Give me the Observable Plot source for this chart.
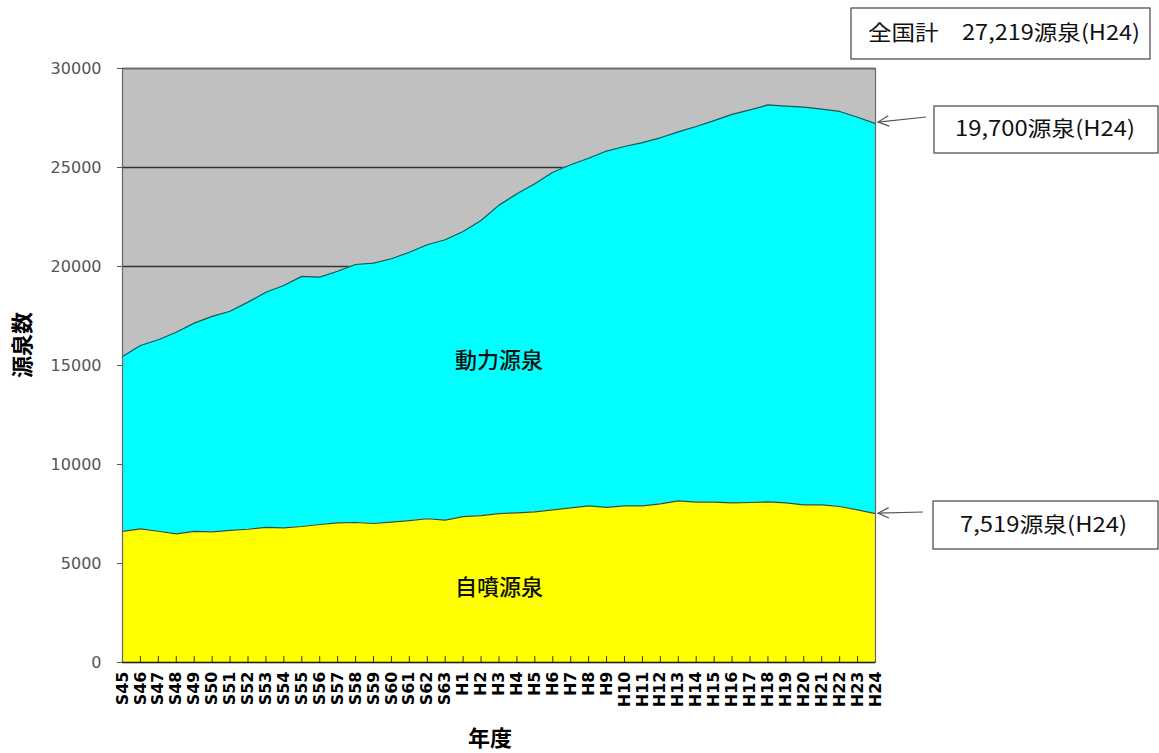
<!DOCTYPE html>
<html><head><meta charset="utf-8">
<script src="https://cdn.jsdelivr.net/npm/d3@7"></script>
<script src="https://cdn.jsdelivr.net/npm/@observablehq/plot@0.6"></script>
<style>body{margin:0;background:#fff;}</style>
</head><body><div id="chart"></div>
<script>
const years = ["S45","S46","S47","S48","S49","S50","S51","S52","S53","S54","S55","S56","S57","S58","S59","S60","S61","S62","S63",
  "H1","H2","H3","H4","H5","H6","H7","H8","H9","H10","H11","H12","H13","H14","H15","H16","H17","H18","H19","H20","H21","H22","H23","H24"];
// 自噴源泉
const natural = [6620,6750,6630,6500,6620,6600,6670,6730,6820,6800,6870,6970,7050,7070,7020,7090,7170,7260,7190,
  7370,7420,7520,7560,7610,7710,7810,7910,7830,7910,7910,8010,8160,8100,8100,8060,8080,8110,8060,7960,7960,7880,7710,7519];
// 動力源泉
const motor = [8830,9260,9670,10180,10520,10880,11070,11470,11880,12240,12630,12490,12710,13030,13150,13300,13550,13840,14160,
  14400,14900,15580,16110,16570,17050,17330,17560,18000,18150,18350,18490,18640,18970,19270,19620,19830,20050,20040,20090,19990,19950,19830,19700];
const seriesNames = ["自噴源泉","動力源泉"];
const yTicks = [0,5000,10000,15000,20000,25000,30000];
const gridValues = [5000,10000,15000,20000,25000,30000];
const notes = {total:"全国計　27,219源泉(H24)", motor:"19,700源泉(H24)", natural:"7,519源泉(H24)"};

const data = years.flatMap((y,i)=>[
  {year:y, type:seriesNames[0], value:natural[i]},
  {year:y, type:seriesNames[1], value:motor[i]}
]);
const rows = years.map((y,i)=>({year:y, natural:natural[i], total:natural[i]+motor[i]}));
const cjk = "'Noto Sans CJK JP', 'Noto Sans', sans-serif";

const chart = Plot.plot({
  width:1159, height:753,
  marginLeft:122, marginRight:284, marginTop:68, marginBottom:91,
  style:{fontFamily:"'DejaVu Sans', sans-serif", background:"#fff", overflow:"visible"},
  x:{type:"point", domain:years, padding:0, label:null},
  y:{domain:[0,30000], label:null},
  color:{domain:seriesNames, range:["#ffff00","#00ffff"]},
  marks:[
    Plot.frame({fill:"#c0c0c0"}),
    Plot.ruleY(gridValues,{stroke:"#333", strokeWidth:1.3}),
    Plot.areaY(data,{x:"year", y:"value", fill:"type"}),
    Plot.lineY(rows,{x:"year", y:"natural", stroke:"#2f4f4f", strokeWidth:1.2}),
    Plot.lineY(rows,{x:"year", y:"total", stroke:"#2f4f4f", strokeWidth:1.2}),
    Plot.ruleX(years.slice(1,-1),{x:d=>d, y1:0, y2:300, stroke:"#333"}),
    Plot.frame({stroke:"#666", strokeWidth:1.2}),
    Plot.ruleY([0],{stroke:"#222", strokeWidth:1.5}),
    Plot.axisY({ticks:yTicks, tickSize:5, tickPadding:16, fontSize:16, color:"#555", tickFormat:d=>String(d), label:null}),
    Plot.axisX({tickRotate:-90, tickSize:0, tickPadding:9, fontSize:16, fontWeight:"bold", fill:"#000", label:null}),
    Plot.text([seriesNames[1]],{x:()=>"H3", y:()=>15250, text:d=>d, fontSize:22, fontWeight:500, fontFamily:cjk, fill:"#111"}),
    Plot.text([seriesNames[0]],{x:()=>"H3", y:()=>3750, text:d=>d, fontSize:22, fontWeight:500, fontFamily:cjk, fill:"#111"})
  ]
});
document.getElementById("chart").appendChild(chart);

const svg = d3.select(chart);
const xs = chart.scale("x"), ys = chart.scale("y");
const last = years.length-1;
const xEnd = xs.apply(years[last]);
const yTotal = ys.apply(natural[last]+motor[last]);
const yNat = ys.apply(natural[last]);

// axis titles
svg.append("text").attr("x",24).attr("y",345).attr("transform","rotate(-90,24,345)")
  .attr("text-anchor","middle").attr("dominant-baseline","middle")
  .style("font-family",cjk).style("font-size","22px").style("font-weight","bold").text("源泉数");
svg.append("text").attr("x",490).attr("y",740)
  .attr("text-anchor","middle").attr("dominant-baseline","middle")
  .style("font-family",cjk).style("font-size","22px").style("font-weight","bold").text("年度");

function box(x,y,w,h,label,tx,tw){
  svg.append("rect").attr("x",x).attr("y",y).attr("width",w).attr("height",h)
    .attr("fill","#fff").attr("stroke","#444").attr("stroke-width",1.2);
  svg.append("text").attr("x",tx).attr("y",y+h/2+1).attr("dominant-baseline","middle")
    .attr("text-anchor","start")
    .attr("textLength",tw).attr("lengthAdjust","spacingAndGlyphs")
    .style("font-family",cjk).style("font-size","21px").style("fill","#111").text(label);
}
function arrow(x0,y0,x1,y1){
  const g = svg.append("g").attr("stroke","#555").attr("fill","none").attr("stroke-width",1.2);
  g.append("line").attr("x1",x0).attr("y1",y0).attr("x2",x1).attr("y2",y1);
  const a = Math.atan2(y0-y1,x0-x1), L=12, s=0.45;
  g.append("polyline").attr("points",[
    [x1+L*Math.cos(a+s), y1+L*Math.sin(a+s)],[x1,y1],[x1+L*Math.cos(a-s), y1+L*Math.sin(a-s)]
  ].map(p=>p.join(",")).join(" "));
}
box(851,8,299,51,notes.total,868,272);
box(934,106,224,47,notes.motor,955,180);
box(933,501,225,48,notes.natural,960,167);
arrow(926,117,xEnd+3,yTotal-1);
arrow(923,512,xEnd+3,yNat);
</script>
</body></html>
